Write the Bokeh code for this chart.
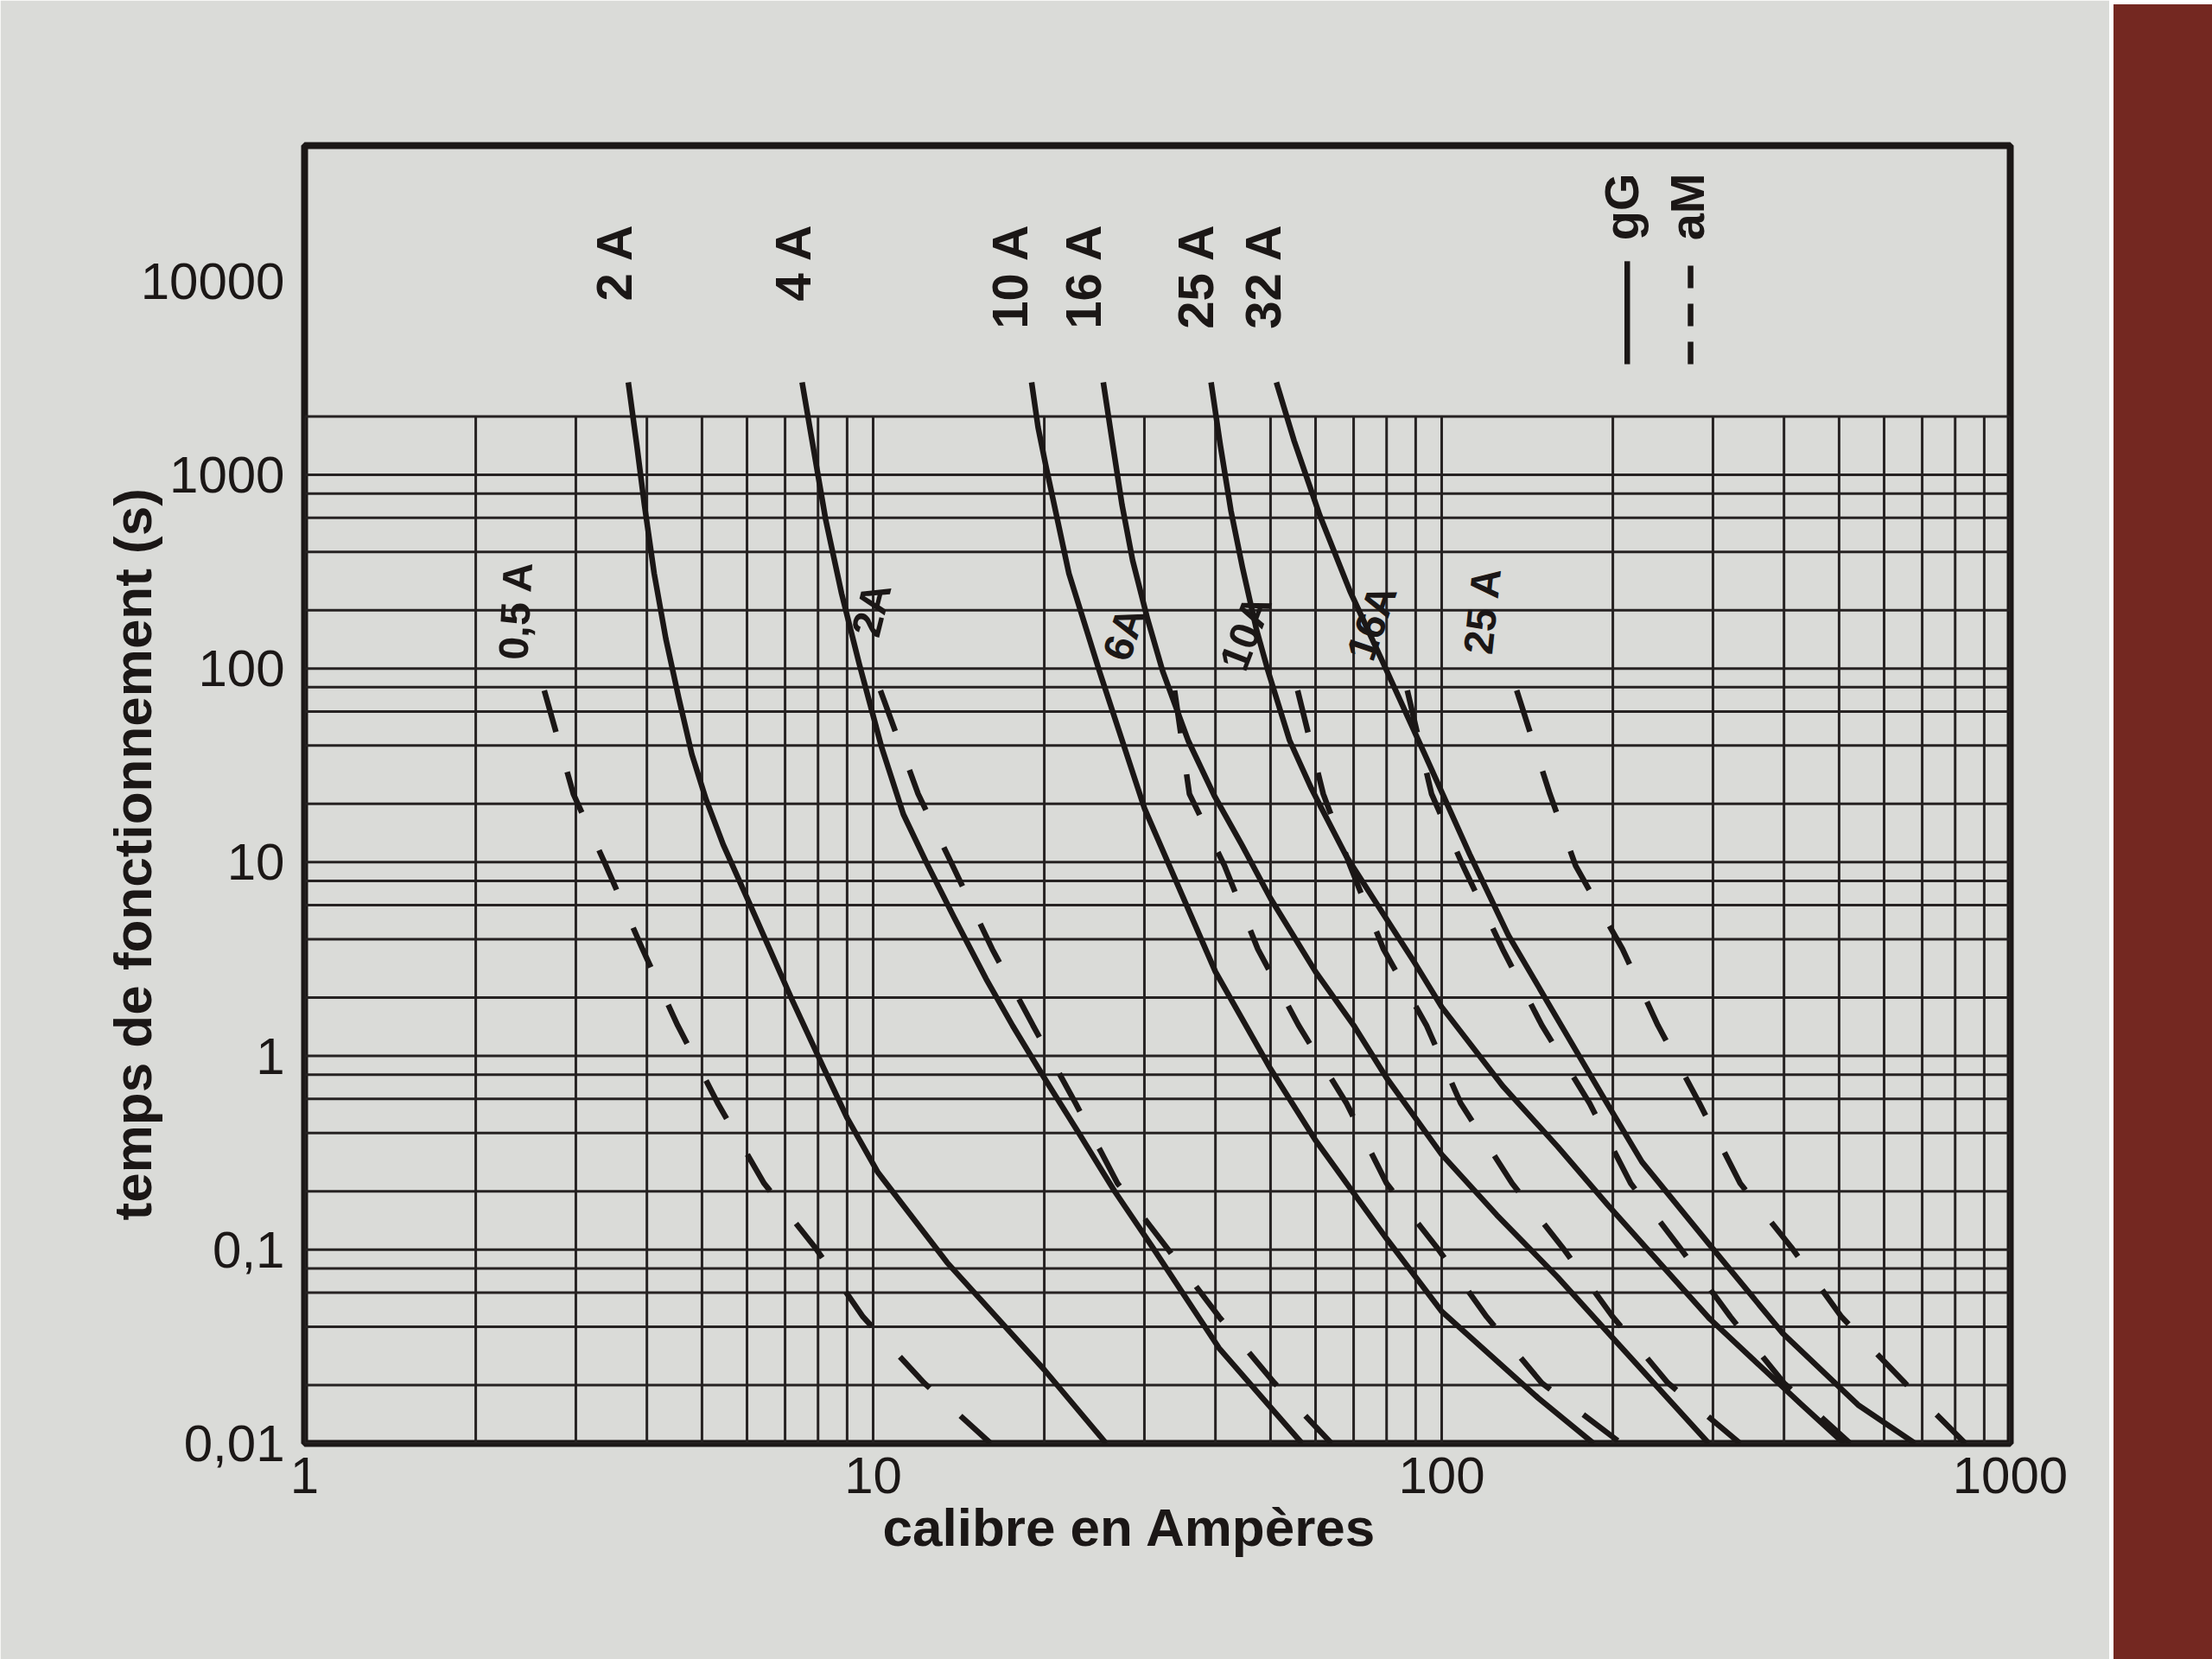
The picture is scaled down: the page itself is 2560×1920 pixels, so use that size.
import math
from bokeh.plotting import figure
from bokeh.models import FixedTicker, Title, Div
from bokeh.layouts import row
from bokeh.embed import file_html
from bokeh.resources import INLINE

# ---------------- data ----------------
x_ticks = [1, 10, 100, 1000]
x_tick_labels = ["1", "10", "100", "1000"]
y_ticks = [0.01, 0.1, 1, 10, 100, 1000, 10000]
y_tick_labels = ["0,01", "0,1", "1", "10", "100", "1000", "10000"]

grid_x_mantissas = [1, 2, 3, 4, 5, 6, 7, 8, 9]
grid_y_mantissas = [1, 2, 4, 6, 8]
grid_bottom = 0.01
grid_top = 2000

# gG fuses (solid): current (A) / time (s)
gg_2A_I = [3.71, 3.84, 3.96, 4.12, 4.32, 4.55, 4.8, 5.08, 5.45, 6.05, 7.2, 8.2, 9.0, 10.2, 13.5, 20.0, 25.7]
gg_2A_t = [3000, 1420, 700, 309, 142, 70.7, 36, 21.2, 12.3, 6.2, 1.95, 0.857, 0.479, 0.25, 0.0857, 0.024, 0.01]
gg_4A_I = [7.5, 7.8, 8.25, 8.8, 9.45, 10.35, 11.3, 12.4, 13.9, 15.8, 17.6, 20.0, 23.0, 26.6, 30.8, 40.6, 56.8]
gg_4A_t = [3000, 1530, 588, 244, 106, 39.2, 17.7, 10, 5.15, 2.5, 1.43, 0.77, 0.4, 0.2, 0.106, 0.031, 0.01]
gg_10A_I = [19.0, 19.5, 20.1, 22.1, 25.0, 30.0, 40.0, 50.0, 60.0, 80.0, 100.0, 148.0, 185.0]
gg_10A_t = [3000, 1760, 1135, 309, 97, 19, 2.72, 0.857, 0.367, 0.114, 0.048, 0.0171, 0.01]
gg_16A_I = [25.4, 26.4, 27.4, 28.6, 30.4, 32.3, 35.8, 39.8, 44.5, 50.0, 60.0, 70.0, 80.0, 100.0, 125.0, 160.0, 200.0, 295.0]
gg_16A_t = [3000, 1420, 700, 362, 179, 97, 42.6, 22.1, 12.3, 6.5, 2.72, 1.44, 0.77, 0.31, 0.151, 0.072, 0.035, 0.01]
gg_25A_I = [39.3, 40.8, 42.6, 44.6, 47.2, 49.5, 54.0, 59.0, 68.0, 78.0, 90.0, 100.0, 128.0, 160.0, 196.0, 296.0, 430.0, 510.0]
gg_25A_t = [3000, 1420, 650, 335, 160, 97, 42.6, 24, 10.7, 5.7, 2.97, 1.79, 0.7, 0.34, 0.17, 0.044, 0.0158, 0.01]
gg_32A_I = [51.2, 55.0, 61.0, 69.0, 78.0, 93.0, 112.0, 131.0, 153.0, 192.0, 225.0, 296.0, 398.0, 540.0, 680.0]
gg_32A_t = [3000, 1500, 620, 250, 115, 37, 11, 4.2, 1.93, 0.62, 0.284, 0.106, 0.037, 0.0158, 0.01]

# aM fuses (dashed)
am_t = [77, 22.5, 9.6, 3.56, 1.44, 0.57, 0.22, 0.103, 0.045, 0.0205, 0.01]
am_05A_I = [2.64, 2.97, 3.39, 3.93, 4.53, 5.33, 6.43, 7.9, 9.6, 12.3, 16.1]
am_2A_I = [10.3, 12.0, 13.8, 16.2, 19.1, 22.7, 26.9, 32.8, 40.6, 50.8, 64.0]
am_6A_I = [33.9, 36.0, 41.5, 47.5, 56.0, 68.0, 80.0, 98.0, 120.0, 150.0, 207.0]
am_10A_I = [55.8, 61.9, 69.0, 79.0, 94.0, 108.0, 133.0, 163.0, 200.0, 250.0, 335.0]
am_16A_I = [87.0, 96.0, 109.0, 128.0, 150.0, 182.0, 215.0, 262.0, 322.0, 400.0, 523.0]
am_25A_I = [135.5, 155.0, 172.0, 208.0, 240.0, 284.0, 335.0, 412.0, 505.0, 653.0, 834.0]

# curve labels
gg_labels = ["2 A", "4 A", "10 A", "16 A", "25 A", "32 A"]
gg_label_x = [3.5, 7.22, 17.4, 23.4, 36.9, 48.5]
gg_label_top = 19900
am_labels = ["0,5 A", "2A", "6A", "10A", "16A", "25 A"]
am_label_x = [2.35, 9.93, 27.6, 45.2, 75.3, 117.9]
am_label_y = [199.5, 201, 151, 153, 172.6, 199.5]
am_label_angle_deg = [87, 76, 72, 69, 71, 84]

legend_texts = ["gG", "aM"]
legend_x = [207, 270]
legend_text_top = 36000
legend_line_x = [212, 274]
legend_line_t = [3720, 12650]

INK = "#1b1716"
BG = "#dadbd8"
RED = "#742821"
FONT = "Liberation Sans"

p = figure(x_axis_type="log", y_axis_type="log", x_range=(1, 1000), y_range=(0.01, 50000),
           frame_width=1974, frame_height=1502,
           min_border_left=352, min_border_right=115, min_border_top=168, min_border_bottom=250,
           output_backend="svg", toolbar_location=None,
           background_fill_color=BG, border_fill_color=BG,
           outline_line_color=INK, outline_line_width=8)
p.xgrid.visible = False
p.ygrid.visible = False

for ax, ticks, labels in ((p.xaxis, x_ticks, x_tick_labels), (p.yaxis, y_ticks, y_tick_labels)):
    ax.ticker = FixedTicker(ticks=ticks, minor_ticks=[])
    ax.major_label_overrides = {t: l for t, l in zip(ticks, labels)}
    ax.axis_line_color = None
    ax.major_tick_line_color = None
    ax.minor_tick_line_color = None
    ax.major_label_text_font = FONT
    ax.major_label_text_font_size = "60px"
    ax.major_label_text_color = INK
p.xaxis.major_label_standoff = 10
p.yaxis.major_label_standoff = 17

# axis titles
p.add_layout(Title(text="temps de fonctionnement (s)", align="left", offset=258, standoff=-56,
                   text_font=FONT, text_font_style="bold", text_font_size="62px",
                   text_color=INK), "left")
p.add_layout(Title(text="calibre en Ampères", align="left", offset=669, standoff=0,
                   text_font=FONT, text_font_style="bold", text_font_size="62px",
                   text_color=INK), "below")

# grid only in the lower part of the frame
gx = [m * 10 ** k for k in range(0, 3) for m in grid_x_mantissas] + [1000]
gy = [m * 10 ** k for k in range(-2, 4) for m in grid_y_mantissas if m * 10 ** k <= grid_top]
p.segment(x0=gx, y0=[grid_bottom] * len(gx), x1=gx, y1=[grid_top] * len(gx),
          line_color="#262222", line_width=3)
p.segment(x0=[1] * len(gy), y0=gy, x1=[1000] * len(gy), y1=gy,
          line_color="#262222", line_width=3)

for I, t in ((gg_2A_I, gg_2A_t), (gg_4A_I, gg_4A_t), (gg_10A_I, gg_10A_t),
             (gg_16A_I, gg_16A_t), (gg_25A_I, gg_25A_t), (gg_32A_I, gg_32A_t)):
    p.line(I, t, line_color=INK, line_width=6.5, line_join="round")

for I in (am_05A_I, am_2A_I, am_6A_I, am_10A_I, am_16A_I, am_25A_I):
    p.line(I, am_t, line_color=INK, line_width=6.5, line_dash="50 48", line_cap="butt")

p.text(x=gg_label_x, y=[gg_label_top] * len(gg_labels), text=gg_labels,
       angle=math.pi / 2, text_align="right", text_baseline="middle",
       text_font={"value": FONT}, text_font_style="bold",
       text_font_size="58px", text_color=INK)
p.text(x=am_label_x, y=am_label_y, text=am_labels,
       angle=[math.radians(a) for a in am_label_angle_deg],
       text_align="center", text_baseline="middle",
       text_font={"value": FONT}, text_font_style="bold",
       text_font_size="48px", text_color=INK)
p.text(x=legend_x, y=[legend_text_top] * 2, text=legend_texts,
       angle=math.pi / 2, text_align="right", text_baseline="middle",
       text_font={"value": FONT}, text_font_style="bold",
       text_font_size="56px", text_color=INK)
p.line([legend_line_x[0]] * 2, legend_line_t, line_color=INK, line_width=6.5)
p.line([legend_line_x[1]] * 2, legend_line_t, line_color=INK, line_width=6.5,
       line_dash="26 18", line_cap="butt")

strip = Div(width=119, height=1920, styles={"background-color": RED})

layout = row(p, strip, spacing=0)
open("out.html", "w").write(file_html(layout, INLINE))
